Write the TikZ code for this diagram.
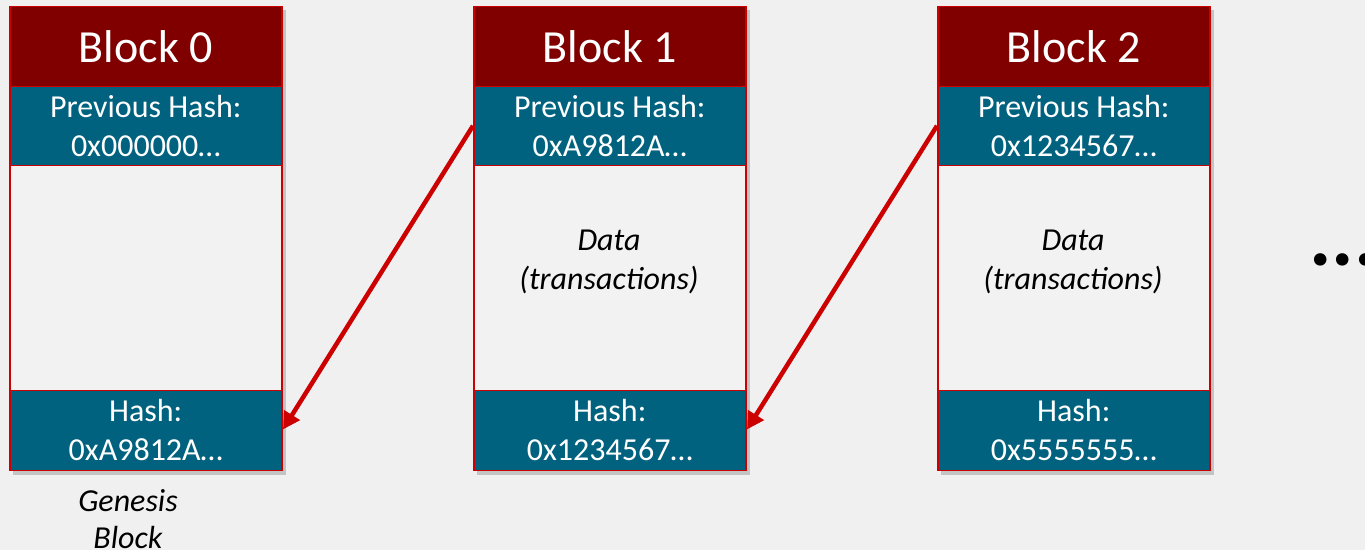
\documentclass[tikz,border=0pt]{standalone}
\usepackage{fontspec}
\setmainfont{Carlito}
\usetikzlibrary{arrows.meta}
\definecolor{bgc}{HTML}{F0F0F0}
\definecolor{bodyc}{HTML}{F2F2F2}
\definecolor{hdrc}{HTML}{800000}
\definecolor{tealc}{HTML}{00627F}
\definecolor{bordc}{HTML}{CC0000}
\definecolor{arrc}{HTML}{CC0000}
\tikzset{
  sec/.style={draw=bordc, line width=1.5pt, minimum width=272pt, inner sep=0pt,
    anchor=north west, align=center, text=white},
  hdrbox/.style={sec, fill=hdrc, minimum height=80pt, font=\fontsize{46}{46}\selectfont},
  prevbox/.style={sec, fill=tealc, minimum height=79pt, font=\fontsize{32}{39}\selectfont},
  bodybox/.style={sec, fill=bodyc, minimum height=225pt},
  datatext/.style={align=center, text=black, inner sep=0pt, font=\fontsize{32}{39}\selectfont\itshape},
  hashbox/.style={sec, fill=tealc, minimum height=80pt, font=\fontsize{32}{39}\selectfont},
  shadowbox/.style={fill=black, opacity=0.18},
  link/.style={draw=arrc, line width=4.5pt, -{Triangle[length=17pt,width=18pt]}, shorten >=1pt},
  note/.style={align=center, text=black, inner sep=0pt, font=\fontsize{32}{37}\selectfont\itshape}
}
\begin{document}
\begin{tikzpicture}[x=1pt,y=-1pt]
\fill[bgc] (0,0) rectangle (1365,550);
\useasboundingbox (0,0) rectangle (1365,550);
% shadows
\foreach \x in {9,473,937}{
  \fill[shadowbox] (\x+4,9.5) rectangle (\x+277,474.5);
}
% Block 0
\node[bodybox] (b0body) at (9,164.5) {};
\node[hdrbox]  (b0hdr)  at (9,5.5) {Block 0};
\node[prevbox] (b0prev) at (9,85.5) {Previous Hash:\\0x000000…};
\node[hashbox] (b0hash) at (9,389.5) {Hash:\\0xA9812A…};
% Block 1
\node[bodybox] (b1body) at (473,164.5) {};
\node[datatext] (b1data) at (609,262) {Data\\(transactions)};
\node[hdrbox]  (b1hdr)  at (473,5.5) {Block 1};
\node[prevbox] (b1prev) at (473,85.5) {Previous Hash:\\0xA9812A…};
\node[hashbox] (b1hash) at (473,389.5) {Hash:\\0x1234567…};
% Block 2
\node[bodybox] (b2body) at (937,164.5) {};
\node[datatext] (b2data) at (1073,262) {Data\\(transactions)};
\node[hdrbox]  (b2hdr)  at (937,5.5) {Block 2};
\node[prevbox] (b2prev) at (937,85.5) {Previous Hash:\\0x1234567…};
\node[hashbox] (b2hash) at (937,389.5) {Hash:\\0x5555555…};
% links
\draw[link] (b1prev.west) -- (b0hash.east);
\draw[link] (b2prev.west) -- (b1hash.east);
% note
\node[note] (genesis) at (128,519) {Genesis\\Block};
% ellipsis
\node[anchor=base west, inner sep=0pt, font=\fontsize{84}{84}\selectfont\bfseries] (more) at (1309,265) {...};
\end{tikzpicture}
\end{document}
